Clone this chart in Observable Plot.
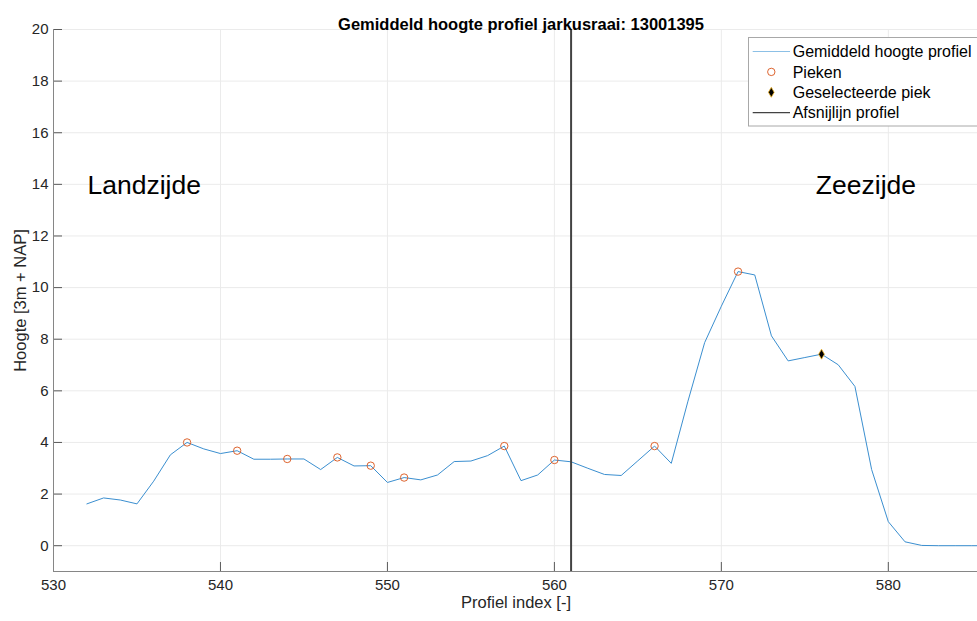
<!DOCTYPE html>
<html>
<head>
<meta charset="utf-8">
<script src="https://cdn.jsdelivr.net/npm/d3@7"></script>
<script src="https://cdn.jsdelivr.net/npm/@observablehq/plot@0.6"></script>
<style>
  html, body { margin: 0; padding: 0; background: #fff; overflow: hidden; width: 977px; height: 621px; }
  #chart { position: relative; width: 977px; height: 621px; overflow: hidden; }
  #chart > svg { max-width: none !important; }
  #legend { position: absolute; left: 748px; top: 37px; }
</style>
</head>
<body>
<div id="chart"></div>
<script>
// ---- data ----
const indices = d3.range(532, 587);
const heights = [1.62, 1.85, 1.77, 1.62, 2.5, 3.52, 4.0, 3.75, 3.57, 3.68,
                 3.35, 3.35, 3.36, 3.36, 2.95, 3.42, 3.09, 3.10, 2.45, 2.64,
                 2.55, 2.74, 3.26, 3.28, 3.49, 3.86, 2.52, 2.74, 3.32, 3.25,
                 3.0, 2.76, 2.72, 3.29, 3.86, 3.19, 5.6, 7.87, 9.28, 10.62,
                 10.49, 8.13, 7.16, 7.29, 7.42, 7.01, 6.17, 2.95, 0.93, 0.15,
                 0.01, 0, 0, 0, 0];
const peakIndices = [538, 541, 544, 547, 549, 551, 557, 560, 566, 571];
const selectedIndex = 576;
const cutoffIndex = 561;
const xTicks = [530, 540, 550, 560, 570, 580];
const yTicks = [0, 2, 4, 6, 8, 10, 12, 14, 16, 18, 20];
const zoneLabels = ["Landzijde", "Zeezijde"];
const zoneX = [535.43, 578.66];
const zoneY = [13.94, 13.94];
const legendLabels = ["Gemiddeld hoogte profiel", "Pieken", "Geselecteerde piek", "Afsnijlijn profiel"];
const titleText = "Gemiddeld hoogte profiel jarkusraai: 13001395";
const xLabelText = "Profiel index [-]";
const yLabelText = "Hoogte [3m + NAP]";

// ---- tables ----
const profile = indices.map((x, i) => ({index: x, hoogte: heights[i]}));
const hAt = x => heights[indices.indexOf(x)];
const peaks = peakIndices.map(x => ({index: x, hoogte: hAt(x)}));
const selected = [{index: selectedIndex, hoogte: hAt(selectedIndex)}];
const zones = zoneLabels.map((t, i) => ({text: t, x: zoneX[i], y: zoneY[i]}));

// ---- style ----
const font = '"Liberation Sans", Arial, Helvetica, sans-serif';
const W = 1000, H = 621, mL = 53, mR = 12, mT = 29, mB = 50;
const innerW = W - mL - mR, innerH = H - mT - mB;
const blue = "#3b8fd0", orange = "#D95319", gold = "#EDB120", dark = "#434343";
const gridColor = "#ebebeb", axisColor = "#868686";

const plot = Plot.plot({
  width: W, height: H,
  marginLeft: mL, marginRight: mR, marginTop: mT, marginBottom: mB,
  style: {fontFamily: font, background: "white", color: "#262626", overflow: "visible", maxWidth: "none"},
  x: {domain: [530, 586], label: null},
  y: {domain: [-1, 20], label: null},
  marks: [
    Plot.gridX(xTicks, {stroke: gridColor, strokeOpacity: 1}),
    Plot.gridY(yTicks, {stroke: gridColor, strokeOpacity: 1}),
    Plot.ruleX(xTicks, {x: d => d, stroke: "#5a5a5a", insetTop: innerH - 9}),
    Plot.ruleY(yTicks, {y: d => d, stroke: "#5a5a5a", insetRight: innerW - 9}),
    Plot.ruleX([530], {stroke: axisColor}),
    Plot.ruleY([-1], {stroke: axisColor}),
    Plot.axisX(xTicks, {tickSize: 0, tickPadding: 8, fontSize: 15, label: null, fill: "#262626"}),
    Plot.axisY(yTicks, {tickSize: 0, tickPadding: 5, fontSize: 15, label: null, fill: "#262626"}),
    Plot.line(profile, {x: "index", y: "hoogte", stroke: blue, strokeWidth: 1, clip: true}),
    Plot.ruleX([cutoffIndex], {stroke: dark, strokeWidth: 2}),
    Plot.dot(peaks, {x: "index", y: "hoogte", r: 3.7, stroke: orange, strokeWidth: 0.9, fill: "none"}),
    Plot.dot(selected, {x: "index", y: "hoogte", symbol: "diamond", r: 3, fill: "black", stroke: gold, strokeWidth: 0.8}),
    Plot.text(zones, {x: "x", y: "y", text: "text", fontSize: 26.5, fill: "black", ariaLabel: "zone-label"}),
    Plot.text([titleText], {text: d => d, frameAnchor: "top", textAnchor: "middle", dy: -11, fontWeight: "bold", fontSize: 16.5, fill: "black"}),
    Plot.text([xLabelText], {text: d => d, frameAnchor: "bottom", textAnchor: "middle", dx: -5, dy: 36, fontSize: 16.5, fill: "#262626"}),
    Plot.text([yLabelText], {text: d => d, frameAnchor: "left", textAnchor: "middle", dx: -33, rotate: -90, fontSize: 16.5, fill: "#262626"})
  ]
});

const chart = document.getElementById("chart");
chart.appendChild(plot);

// white background boxes behind zone labels
const svgNS = "http://www.w3.org/2000/svg";
const pads = [{l: 22, r: 26}, {l: 21, r: 57}];
plot.querySelectorAll('g[aria-label="zone-label"] text').forEach((t, i) => {
  const b = t.getBBox();
  const cy = b.y + b.height / 2;
  const p = pads[i] || {l: 22, r: 26};
  const r = document.createElementNS(svgNS, "rect");
  r.setAttribute("x", b.x - p.l);
  r.setAttribute("width", b.width + p.l + p.r);
  r.setAttribute("y", cy - 30);
  r.setAttribute("height", 60);
  r.setAttribute("fill", "white");
  r.setAttribute("stroke", "none");
  const tr = t.getAttribute("transform");
  if (tr) r.setAttribute("transform", tr);
  t.parentNode.insertBefore(r, t);
});

// legend
const lw = 250, lh = 90;
const leg = d3.select(chart).append("svg")
  .attr("id", "legend").attr("width", lw).attr("height", lh)
  .style("font-family", font);
leg.append("rect").attr("x", 0.5).attr("y", 0.5).attr("width", lw - 1).attr("height", lh - 1.5)
  .attr("fill", "white").attr("stroke", "#a8a8a8");
legendLabels.forEach((label, i) => {
  const cy = 14.5 + i * 20.4;
  const g = leg.append("g");
  if (i === 0 || i === 3) {
    g.append("line").attr("x1", 4.7).attr("x2", 42).attr("y1", cy).attr("y2", cy)
      .attr("stroke", i === 0 ? "#8cc0e6" : dark).attr("stroke-width", i === 0 ? 1.2 : 1.3);
  } else if (i === 1) {
    g.append("circle").attr("cx", 23.3).attr("cy", cy).attr("r", 3.7)
      .attr("fill", "none").attr("stroke", orange).attr("stroke-width", 0.9);
  } else {
    g.append("path").attr("d", d3.symbol(d3.symbolDiamond, Math.PI * 9)())
      .attr("transform", `translate(23.3,${cy})`)
      .attr("fill", "black").attr("stroke", gold).attr("stroke-width", 0.8);
  }
  g.append("text").attr("x", 44.7).attr("y", cy).attr("dy", "0.35em")
    .attr("font-size", 16).attr("fill", "black").text(label);
});
</script>
</body>
</html>
